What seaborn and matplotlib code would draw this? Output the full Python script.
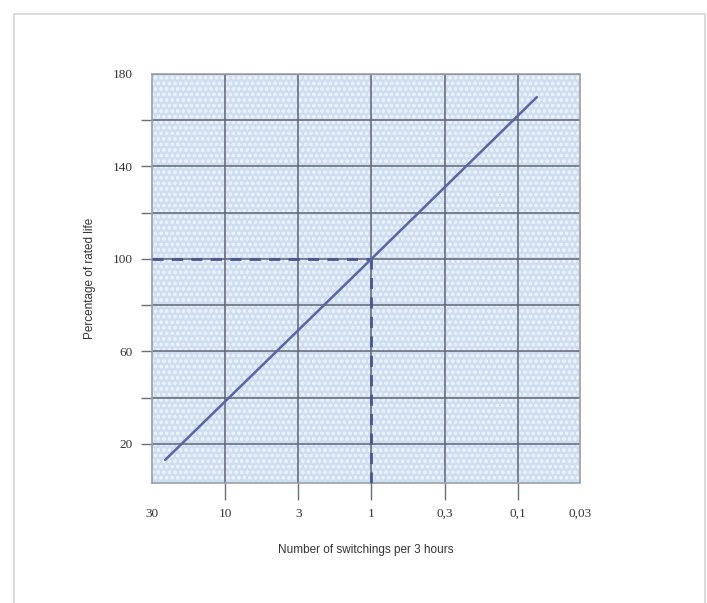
import matplotlib
matplotlib.use("Agg")
import matplotlib.pyplot as plt
import seaborn as sns
import pandas as pd
from matplotlib.patches import Rectangle

# Switching frequency categories (per 3 hours), evenly spaced on the axis
switch_labels = ["30", "10", "3", "1", "0,3", "0,1", "0,03"]
switch_pos = [0, 1, 2, 3, 4, 5, 5.85]

# Rated-life characteristic (position on switching axis, % of rated life)
life_pos = [0.18, 3.0, 5.26]
life_pct = [13, 100, 170]

# Reference point: 1 switching per 3 hours gives 100 % rated life
ref_pos = 3.0
ref_pct = 100

y_ticks = [20, 40, 60, 80, 100, 120, 140, 160, 180]
y_labels = ["20", "", "60", "", "100", "", "140", "", "180"]

sns.set_theme(style="white")
plt.rcParams["font.family"] = ["Liberation Serif", "DejaVu Sans"]
plt.rcParams["hatch.linewidth"] = 0.8

fig = plt.figure(figsize=(7.07, 6.03), dpi=100)
ax = fig.add_axes([152 / 707, 1 - 483 / 603, 428 / 707, 409 / 603])

# Outer light frame around the figure
fig.patches.append(Rectangle((14 / 707, -0.05), 691 / 707, 1.05 - 14 / 603,
                             transform=fig.transFigure, fill=False,
                             edgecolor="#d6d6d6", lw=1.2, zorder=0))

# Dotted light-blue paper background
ax.set_facecolor("#cedef0")
ax.add_patch(Rectangle((0, 0), 1, 1, transform=ax.transAxes,
                       facecolor="#cedef0", edgecolor="#eaf1f9",
                       hatch="ooo", lw=0, zorder=0))

ax.set_xlim(0, 5.85)
ax.set_ylim(3, 180)

ax.set_xticks(switch_pos)
ax.set_xticklabels(switch_labels)
ax.set_yticks(y_ticks)
ax.set_yticklabels(y_labels)

ax.grid(True, color="#5f6472", lw=1.1, zorder=1)
ax.set_axisbelow(True)
ax.tick_params(axis="x", which="major", length=12, width=1.0, color="#6a6e78",
               direction="out", pad=6, labelsize=9.5, labelcolor="#333333")
ax.tick_params(axis="y", which="major", length=8, width=1.0, color="#6a6e78",
               direction="out", pad=6, labelsize=9.5, labelcolor="#333333")
ax.tick_params(bottom=True, left=True)

# No tick marks at the two outer edge labels
xt = ax.xaxis.get_major_ticks()
for t in (xt[0], xt[-1]):
    t.tick1line.set_visible(False)
    t.gridline.set_visible(False)
ax.yaxis.get_major_ticks()[-1].tick1line.set_visible(False)

for sp in ax.spines.values():
    sp.set_color("#9a9ea8")
    sp.set_linewidth(1.2)
    sp.set_linestyle((0, (1.5, 1)))

# Dashed reference lines to the 100 % point
ax.plot([0, ref_pos], [ref_pct, ref_pct], color="#4b5590", lw=2.0,
        ls=(0, (4, 3)), zorder=3, clip_on=False)
ax.plot([ref_pos, ref_pos], [3, ref_pct], color="#4b5590", lw=2.0,
        ls=(0, (4, 3)), zorder=3, clip_on=False)

life_df = pd.DataFrame({"pos": life_pos, "pct": life_pct})
sns.lineplot(data=life_df, x="pos", y="pct", ax=ax, color="#5a64a6",
             lw=1.8, zorder=4)

ax.set_xlabel("Number of switchings per 3 hours", fontsize=8.5,
              family=["Liberation Sans"], color="#333333", labelpad=17)
ax.set_ylabel("Percentage of rated life", fontsize=8.5,
              family=["Liberation Sans"], color="#333333", labelpad=12)

fig.savefig("out.png", dpi=100)
